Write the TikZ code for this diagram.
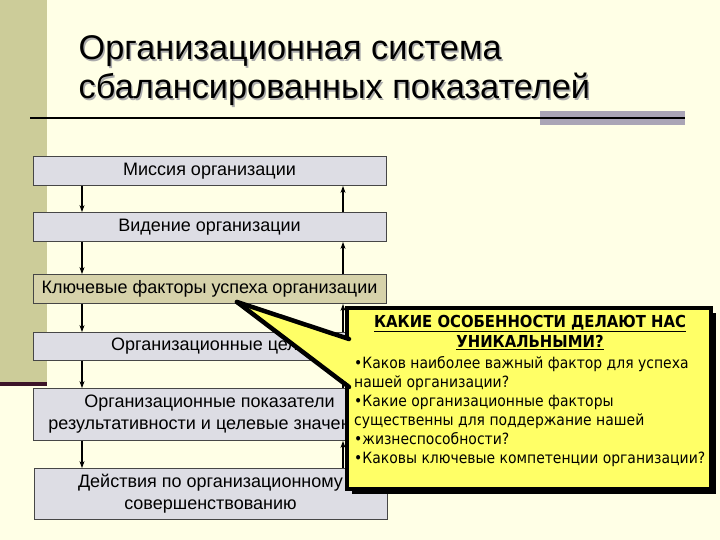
\documentclass[tikz,border=0pt]{standalone}
\usepackage{fontspec}
\setmainfont{Liberation Sans}
\newfontfamily\cfont{DejaVu Sans}[FakeStretch=0.9]
\usetikzlibrary{arrows.meta}
\definecolor{bgc}{RGB}{255,255,230}
\definecolor{olivebar}{RGB}{204,204,153}
\definecolor{darkline}{RGB}{60,20,40}
\definecolor{greybar}{RGB}{170,165,182}
\definecolor{boxgray}{RGB}{221,221,228}
\definecolor{boxline}{RGB}{70,70,70}
\definecolor{khaki}{RGB}{214,210,170}
\definecolor{cyellow}{RGB}{255,255,102}
\begin{document}
\begin{tikzpicture}[x=1pt,y=-1pt,
  box/.style={draw=boxline, line width=0.8pt, fill=boxgray, minimum width=353pt,
    inner sep=0pt, align=center, font=\fontsize{18}{22}\selectfont},
  arr/.style={-{Stealth[length=7pt,width=5pt]}, line width=1.3pt, black},
  titletext/.style={anchor=base west, inner sep=0pt, font=\fontsize{34.3}{40}\selectfont},
  ctext/.style={inner sep=0pt, font=\cfont\fontsize{15.5}{19}\selectfont}]
\useasboundingbox (0,0) rectangle (720,540);
\fill[bgc] (0,0) rectangle (720,540);
\fill[olivebar] (0,0) rectangle (47,383);
\fill[darkline] (0,382) rectangle (47,386);
\fill[greybar] (540,111) rectangle (685,125);
\draw[line width=2pt] (30,118) -- (685,118);
% title with shadow
\node[titletext, text=gray!65] (t1s) at (80,61.5) {Организационная система};
\node[titletext] (t1) at (78.5,60) {Организационная система};
\node[titletext, text=gray!65] (t2s) at (80,100.5) {сбалансированных показателей};
\node[titletext] (t2) at (78.5,99) {сбалансированных показателей};
% boxes
\node[box, minimum height=29pt] (b1) at (209.5,171) {Миссия организации};
\node[box, minimum height=29pt] (b2) at (209.5,227) {Видение организации};
\node[box, minimum height=29pt, fill=khaki] (b3) at (209.5,289) {Ключевые факторы успеха организации};
\node[box, minimum height=28pt] (b4) at (209.5,346.5) {Организационные цели};
\node[box, minimum height=52pt] (b5) at (209.5,414.5) {Организационные показатели\\результативности и целевые значения};
\node[box, minimum height=51pt] (b6) at (210.5,494) {Действия по организационному\\совершенствованию};
\coordinate (L) at (82,0);
\coordinate (R) at (343,0);
\foreach \a/\b in {b1/b2,b2/b3,b3/b4,b4/b5,b5/b6}{
  \draw[arr] (\a.south -| L) -- (\b.north -| L);
  \draw[arr] (\b.north -| R) -- (\a.south -| R);
}
% callout
\fill[black] (352,313) rectangle (716,494);
\node[draw=black, fill=cyellow, line width=3.5pt, minimum width=364pt, minimum height=181pt, inner sep=0pt] (call) at (529,398.5) {};
\coordinate (tip) at (237,302);
\coordinate (pu) at (353,339);
\coordinate (pl) at (353,387);
\coordinate (pue) at (349,339);
\coordinate (ple) at (349,387);
\fill[cyellow] (tip) -- (pu) -- (pl) -- cycle;
\draw[line width=4.5pt, line cap=round] (tip) -- (pue);
\draw[line width=4.5pt, line cap=round] (tip) -- (ple);
\node[ctext, anchor=north, align=center, font=\cfont\bfseries\fontsize{16.5}{20}\selectfont] (ch) at (530,315)
  {\underline{КАКИЕ ОСОБЕННОСТИ ДЕЛАЮТ НАС}\\\underline{УНИКАЛЬНЫМИ?}};
\node[ctext, anchor=north west, align=left] (cb) at (354,356)
  {•Каков наиболее важный фактор для успеха\\
   нашей организации?\\
   •Какие организационные факторы\\
   существенны для поддержание нашей\\
   •жизнеспособности?\\
   •Каковы ключевые компетенции организации?};
\end{tikzpicture}
\end{document}
